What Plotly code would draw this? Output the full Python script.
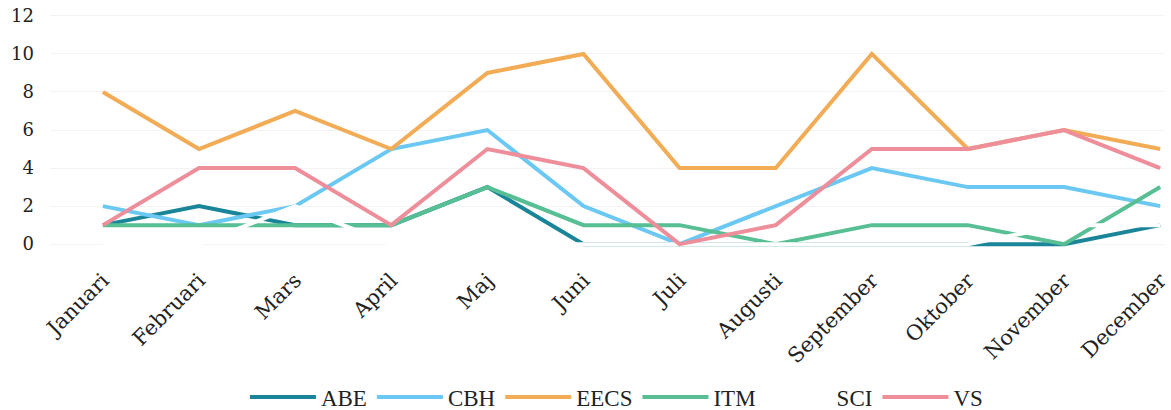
import plotly.graph_objects as go

months = ["Januari", "Februari", "Mars", "April", "Maj", "Juni", "Juli",
          "Augusti", "September", "Oktober", "November", "December"]

abe = [1, 2, 1, 1, 3, 0, 0, 0, 0, 0, 0, 1]
cbh = [2, 1, 2, 5, 6, 2, 0, 2, 4, 3, 3, 2]
eecs = [8, 5, 7, 5, 9, 10, 4, 4, 10, 5, 6, 5]
itm = [1, 1, 1, 1, 3, 1, 1, 0, 1, 1, 0, 3]
sci = [0, 0, 2, 0, 0, 0, 0, 0, 0, 0, 1, 1]
vs = [1, 4, 4, 1, 5, 4, 0, 1, 5, 5, 6, 4]

y_ticks = [0, 2, 4, 6, 8, 10, 12]

series = [
    ("ABE", abe, "#1a8599"),
    ("CBH", cbh, "#6ac8f2"),
    ("EECS", eecs, "#f2ac56"),
    ("ITM", itm, "#57bf93"),
    ("SCI", sci, "#ffffff"),
    ("VS", vs, "#ee8e9a"),
]

fig = go.Figure()
for name, vals, color in series:
    fig.add_trace(go.Scatter(
        x=months, y=vals, name=name, mode="lines",
        line=dict(color=color, width=4),
    ))

fig.update_layout(
    width=1171, height=410,
    margin=dict(l=50, r=6, t=14, b=163, autoexpand=False),
    paper_bgcolor="white", plot_bgcolor="white",
    font=dict(family="DejaVu Serif", color="#222222"),
    showlegend=True,
    legend=dict(
        orientation="h", x=0.508, xanchor="center", y=-0.644, yanchor="middle",
        font=dict(family="Liberation Serif", size=23, color="#222222"),
        itemwidth=66, tracegroupgap=0,
    ),
    xaxis=dict(
        type="category", range=[-0.55, 11.05], automargin=False,
        showgrid=False, zeroline=False, showline=False,
        tickangle=-45, tickfont=dict(family="DejaVu Serif", size=21, color="#222222"),
        ticks="", ticklabelstandoff=16,
    ),
    yaxis=dict(
        range=[-0.15, 12.1], tickvals=y_ticks, automargin=False,
        showgrid=True, gridcolor="#f3f3f3", gridwidth=1,
        zeroline=False, showline=False,
        tickfont=dict(family="DejaVu Serif", size=18, color="#222222"),
        ticklabelstandoff=15, ticklabeloverflow="allow",
    ),
)

fig.write_html("out.html", config={"displayModeBar": False},
               post_script="document.body.style.margin='0';")
